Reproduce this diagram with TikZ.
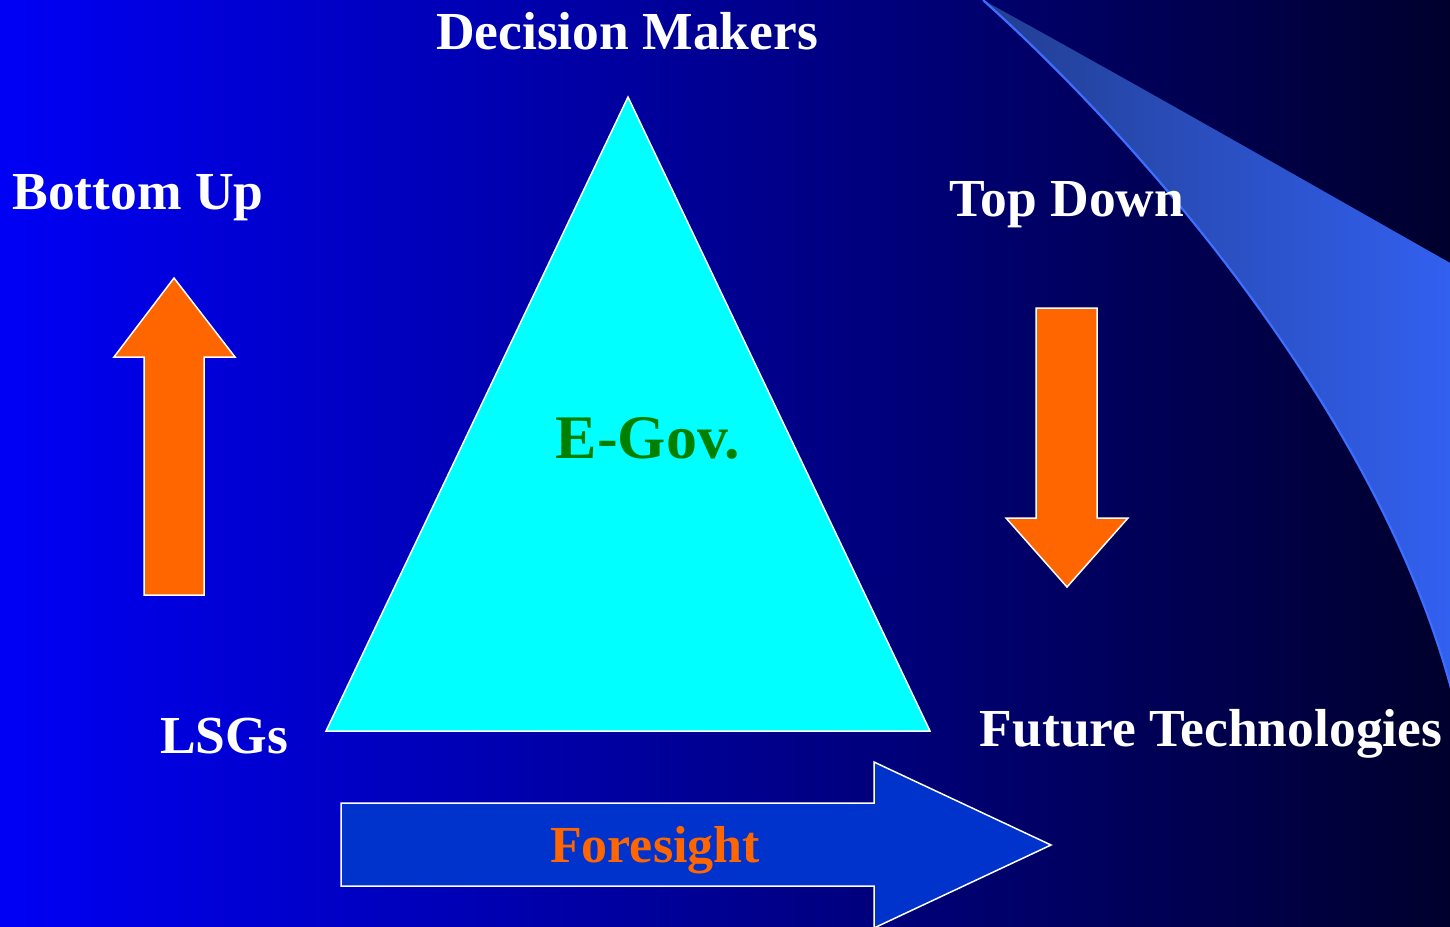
\documentclass[tikz,border=0pt]{standalone}
\usepackage{fontspec}
\setmainfont{Liberation Serif}
\definecolor{bgL}{RGB}{0,0,245}
\definecolor{bgR}{RGB}{0,0,45}
\definecolor{swL}{RGB}{34,62,145}
\definecolor{swR}{RGB}{50,96,240}
\definecolor{swEdge}{RGB}{60,110,255}
\definecolor{arrOrange}{RGB}{255,102,0}
\definecolor{foreBlue}{RGB}{0,51,204}
\definecolor{egovGreen}{RGB}{0,128,0}
\definecolor{triCyan}{RGB}{0,255,255}
\tikzset{
  lbl/.style={anchor=base, inner sep=0pt, text=white, font=\bfseries\fontsize{53.5}{60}\selectfont},
  shapeline/.style={draw=white, line width=1.5pt, line join=miter}
}
\begin{document}
\begin{tikzpicture}[x=1pt,y=-1pt]
\useasboundingbox (0,0) rectangle (1450,926);
% background
\shade[left color=bgL, right color=bgR] (0,0) rectangle (1450,926);
% swoosh
\begin{scope}
\clip (0,0) rectangle (1450,926);
\shade[left color=swL, right color=swR]
  (983,0) .. controls (1150,92) and (1300,178) .. (1452,264)
  -- (1452,692) .. controls (1380,420) and (1150,150) .. (983,0) -- cycle;
\draw[swEdge, line width=2.2pt] (983,0) .. controls (1150,150) and (1380,420) .. (1452,692);
\end{scope}
% triangle
\draw[shapeline, fill=triCyan] (628,97) -- (930,731) -- (326,731) -- cycle;
% bottom up arrow
\draw[shapeline, fill=arrOrange] (174,278) -- (235,357) -- (204,357) -- (204,595)
  -- (144,595) -- (144,357) -- (114,357) -- cycle;
% top down arrow
\draw[shapeline, fill=arrOrange] (1036,308) -- (1097,308) -- (1097,518) -- (1128,518)
  -- (1067,587) -- (1006,518) -- (1036,518) -- cycle;
% foresight arrow
\draw[shapeline, fill=foreBlue] (341,803) -- (874,803) -- (874,762) -- (1051,845)
  -- (874,928) -- (874,886) -- (341,886) -- cycle;
% labels
\node[lbl] (dm) at (627,49) {Decision Makers};
\node[lbl] (bu) at (138,209) {Bottom Up};
\node[lbl] (td) at (1067,216) {Top Down};
\node[lbl] (lsg) at (224,753) {LSGs};
\node[lbl] (ft) at (1211,746) {Future Technologies};
\node[lbl, text=egovGreen, font=\bfseries\fontsize{62}{70}\selectfont] (eg) at (648,458) {E-Gov.};
\node[lbl, text=arrOrange, font=\bfseries\fontsize{52}{60}\selectfont] (fs) at (655,862) {Foresight};
\end{tikzpicture}
\end{document}
